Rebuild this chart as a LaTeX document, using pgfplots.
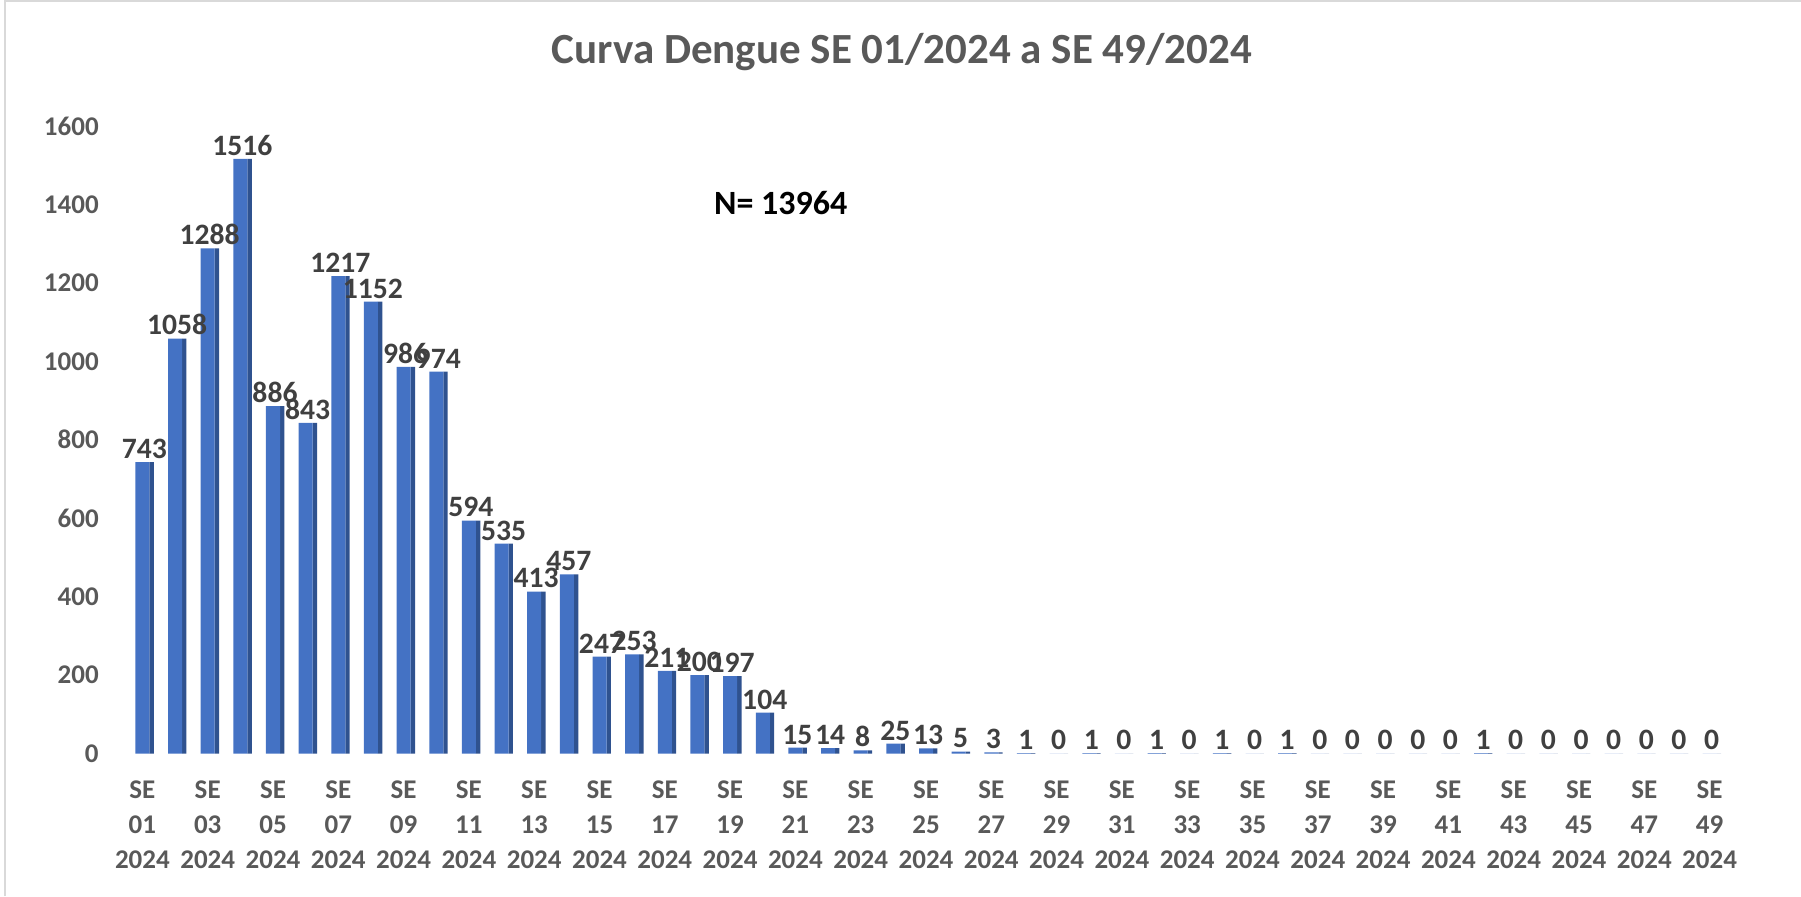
\documentclass[border=0pt]{standalone}
\usepackage{fontspec}
\setmainfont{Carlito}
\usepackage{pgfplots}
\pgfplotsset{compat=1.18}
\definecolor{barblue}{HTML}{4472C4}
\definecolor{barside}{HTML}{2F528F}
\definecolor{ticgray}{HTML}{595959}
\definecolor{labgray}{HTML}{404040}
\definecolor{framegray}{HTML}{D9D9D9}
\begin{document}
\begin{tikzpicture}
\path[use as bounding box] (0,0) rectangle (900.5pt,448pt);
\draw[framegray, line width=1.2pt] (2.5pt,0) -- (2.5pt,447.5pt) -- (900.5pt,447.5pt);
\node[font=\bfseries\fontsize{21.5}{25}\selectfont, text=ticgray] at (451pt,422pt) {Curva Dengue SE 01/2024 a SE 49/2024};
\begin{axis}[
  at={(54.875pt,71.25pt)}, anchor=south west,
  scale only axis, width=816.25pt, height=313.75pt,
  xmin=-1, xmax=49, ymin=0, ymax=1600,
  axis line style={draw=none},
  major tick style={draw=none},
  ytick={0,200,...,1600},
  xtick={0,2,...,48},
  xticklabels={{SE\\01\\2024},{SE\\03\\2024},{SE\\05\\2024},{SE\\07\\2024},{SE\\09\\2024},{SE\\11\\2024},{SE\\13\\2024},{SE\\15\\2024},{SE\\17\\2024},{SE\\19\\2024},{SE\\21\\2024},{SE\\23\\2024},{SE\\25\\2024},{SE\\27\\2024},{SE\\29\\2024},{SE\\31\\2024},{SE\\33\\2024},{SE\\35\\2024},{SE\\37\\2024},{SE\\39\\2024},{SE\\41\\2024},{SE\\43\\2024},{SE\\45\\2024},{SE\\47\\2024},{SE\\49\\2024}},
  xticklabel style={align=center, font=\bfseries\fontsize{13.5}{17.5}\selectfont, text=ticgray, yshift=-6pt},
  yticklabel style={font=\bfseries\fontsize{13.5}{16}\selectfont, text=ticgray, xshift=-2pt},
  /pgf/number format/assume math mode=true,
  /pgf/number format/1000 sep={},
  ybar,
  clip=false,
]
\addplot[ybar, bar width=2.2pt, bar shift=4.6pt, fill=barside, draw=none] coordinates {
(0,743)(1,1058)(2,1288)(3,1516)(4,886)(5,843)(6,1217)(7,1152)(8,986)(9,974)
(10,594)(11,535)(12,413)(13,457)(14,247)(15,253)(16,211)(17,200)(18,197)(19,104)
(20,15)(21,14)(22,8)(23,25)(24,13)(25,5)(26,3)(27,1)(28,0)(29,1)
(30,0)(31,1)(32,0)(33,1)(34,0)(35,1)(36,0)(37,0)(38,0)(39,0)
(40,0)(41,1)(42,0)(43,0)(44,0)(45,0)(46,0)(47,0)(48,0)};
\addplot[ybar, bar width=7pt, bar shift=0pt, fill=barblue, draw=none,
  nodes near coords,
  every node near coord/.append style={font=\bfseries\fontsize{14.8}{16}\selectfont, text=labgray, inner sep=1.5pt, xshift=1pt}] coordinates {
(0,743)(1,1058)(2,1288)(3,1516)(4,886)(5,843)(6,1217)(7,1152)(8,986)(9,974)
(10,594)(11,535)(12,413)(13,457)(14,247)(15,253)(16,211)(17,200)(18,197)(19,104)
(20,15)(21,14)(22,8)(23,25)(24,13)(25,5)(26,3)(27,1)(28,0)(29,1)
(30,0)(31,1)(32,0)(33,1)(34,0)(35,1)(36,0)(37,0)(38,0)(39,0)
(40,0)(41,1)(42,0)(43,0)(44,0)(45,0)(46,0)(47,0)(48,0)};
\node[font=\bfseries\fontsize{17}{19}\selectfont, text=black] at (axis cs:19.55,1404) {N= 13964};
\end{axis}
\end{tikzpicture}
\end{document}
